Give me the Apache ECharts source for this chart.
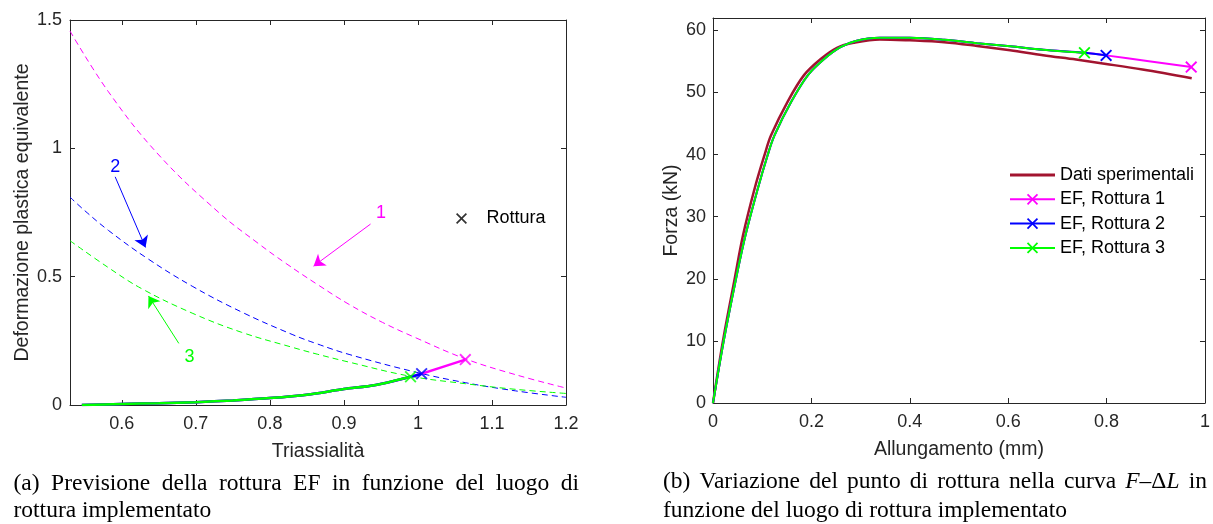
<!DOCTYPE html>
<html>
<head>
<meta charset="utf-8">
<script src="https://cdn.jsdelivr.net/npm/echarts@6.0.0/dist/echarts.min.js"></script>
<style>
  html, body { margin: 0; padding: 0; background: #fff; }
  #chart { width: 1213px; height: 524px; }
</style>
</head>
<body>
<div id="chart"></div>
<script>
// (a) luoghi di rottura: triassialita vs deformazione plastica equivalente
const triaxTicks = [0.6, 0.7, 0.8, 0.9, 1.0, 1.1, 1.2]
const triaxL1 = [0.53, 0.582, 0.65, 0.731, 0.785, 0.821, 0.864, 0.907, 0.952, 0.997, 1.064, 1.132, 1.2]
const epsL1 = [1.457, 1.22, 0.974, 0.75, 0.628, 0.553, 0.47, 0.392, 0.322, 0.262, 0.18, 0.118, 0.066]
const triaxL2 = [0.53, 0.55, 0.582, 0.634, 0.695, 0.762, 0.83, 0.864, 0.907, 0.997, 1.064, 1.132, 1.2]
const epsL2 = [0.81, 0.757, 0.68, 0.572, 0.463, 0.362, 0.275, 0.238, 0.197, 0.128, 0.087, 0.055, 0.03]
const triaxL3 = [0.53, 0.582, 0.627, 0.695, 0.762, 0.83, 0.864, 0.907, 0.988, 1.064, 1.132, 1.2]
const epsL3 = [0.64, 0.535, 0.453, 0.358, 0.283, 0.225, 0.198, 0.167, 0.113, 0.083, 0.061, 0.045]
// percorso di carico EF (comune), rottura 3 / 2 / 1 sugli ultimi punti
const triaxPath = [0.546, 0.6, 0.65, 0.7, 0.75, 0.8, 0.85, 0.9, 0.943, 0.99, 1.005, 1.064]
const epsPath = [0, 0.004, 0.007, 0.011, 0.018, 0.027, 0.04, 0.062, 0.078, 0.11, 0.122, 0.177]
const breakIdxA = [11, 10, 9] // rottura 1, 2, 3
// frecce e numeri
const arrowFrom = [[0.936, 0.705], [0.591, 0.889], [0.677, 0.24]]
const arrowTo = [[0.859, 0.541], [0.632, 0.614], [0.636, 0.425]]
const arrowLabel = ['1', '2', '3']
const arrowLabelAt = [[0.95, 0.748], [0.591, 0.928], [0.6915, 0.188]]

// (b) curva F - deltaL
const elongExp = [0, 0.0207, 0.0443, 0.061, 0.0845, 0.1046, 0.118, 0.1515, 0.185, 0.219, 0.252, 0.286, 0.339, 0.4, 0.47, 0.537, 0.604, 0.671, 0.738, 0.799, 0.873, 0.973]
const forceExp = [0, 10.2, 20.1, 27.0, 34.5, 39.9, 43.1, 48.5, 52.8, 55.4, 57.2, 58.0, 58.55, 58.4, 58.1, 57.5, 56.8, 56.0, 55.3, 54.6, 53.7, 52.3]
const elongFE = [0, 0.022, 0.047, 0.066, 0.091, 0.111, 0.125, 0.159, 0.193, 0.226, 0.259, 0.29, 0.339, 0.4, 0.47, 0.537, 0.604, 0.671, 0.755, 0.799, 0.886, 0.972]
const forceFE = [0, 10.1, 20.1, 27.0, 34.5, 39.9, 43.1, 48.5, 52.8, 55.4, 57.3, 58.3, 58.8, 58.8, 58.5, 57.95, 57.45, 56.9, 56.4, 55.98, 55.05, 54.1]
const breakIdxB = [21, 19, 18] // rottura 1, 2, 3

const MAG = '#FF00FF'
const BLU = '#0000FF'
const GRN = '#00FF00'
const RED = '#A2142F'
const AX = '#262626'
const SANS = 'Liberation Sans'
const CROSS = 'path://M0,1.1L1.1,0L5,3.9L8.9,0L10,1.1L6.1,5L10,8.9L8.9,10L5,6.1L1.1,10L0,8.9L3.9,5Z'

function pairs(xs, ys, n) {
  const out = []
  for (let i = 0; i < (n || xs.length); i++) out.push([xs[i], ys[i]])
  return out
}

// linea con la croce solo sull'ultimo punto
function endCross(xs, ys, n) {
  return pairs(xs, ys, n).map((p, i, a) => i === a.length - 1 ? { value: p } : { value: p, symbol: 'none' })
}

const tickFont = { fontSize: 18, fontFamily: SANS, color: AX }
const nameFont = { fontSize: 19.5, fontFamily: SANS, color: AX }

function frameAxis(extra) {
  return Object.assign({
    type: 'value',
    axisLine: { show: true, onZero: false, lineStyle: { color: AX, width: 1 } },
    axisTick: { show: true, inside: true, length: 5, lineStyle: { color: AX } },
    splitLine: { show: false },
    axisLabel: Object.assign({ show: true }, tickFont),
    nameTextStyle: nameFont
  }, extra)
}

// didascalie giustificate
const CAP_SIZE = 23.5
const CAP_FONT = CAP_SIZE + 'px "Liberation Serif"'
const mctx = document.createElement('canvas').getContext('2d')
function tw(s, it) {
  mctx.font = (it ? 'italic ' : '') + CAP_FONT
  return mctx.measureText(s).width
}
function captionLine(words, x0, x1, baseline) {
  const parts = words.map(w => typeof w === 'string' ? [[w, false]] : w)
  const widths = parts.map(w => w.reduce((a, p) => a + tw(p[0], p[1]), 0))
  const total = widths.reduce((a, b) => a + b, 0)
  const gap = x1 == null ? tw(' ') : (x1 - x0 - total) / (parts.length - 1)
  const els = []
  let x = x0
  parts.forEach((w, i) => {
    let px = x
    w.forEach(p => {
      els.push({
        type: 'text', x: px, y: baseline - 0.3375 * CAP_SIZE,
        style: { text: p[0], font: (p[1] ? 'italic ' : '') + CAP_FONT, fill: '#000', textVerticalAlign: 'middle', verticalAlign: 'middle' }
      })
      px += tw(p[0], p[1])
    })
    x += widths[i] + gap
  })
  return els
}

const captions = [].concat(
  captionLine('(a) Previsione della rottura EF in funzione del luogo di'.split(' '), 13.5, 579, 491.5),
  captionLine('rottura implementato'.split(' '), 13.5, null, 518.5),
  captionLine(['(b)', 'Variazione', 'del', 'punto', 'di', 'rottura', 'nella', 'curva', [['F', true], ['\u2013\u0394', false], ['L', true]], 'in'], 663, 1207, 490),
  captionLine('funzione del luogo di rottura implementato'.split(' '), 663, null, 518.5)
)

const chart = echarts.init(document.getElementById('chart'))

const series = []
// luoghi di rottura tratteggiati
;[[triaxL1, epsL1, MAG, 'Luogo 1'], [triaxL2, epsL2, BLU, 'Luogo 2'], [triaxL3, epsL3, GRN, 'Luogo 3']].forEach(s => {
  series.push({
    name: s[3], type: 'line', xAxisIndex: 0, yAxisIndex: 0, symbol: 'none', smooth: 0.4,
    data: pairs(s[0], s[1]), color: s[2],
    lineStyle: { color: s[2], width: 1, type: [6, 4] }
  })
})
// percorsi EF
;[[breakIdxA[0], MAG], [breakIdxA[1], BLU], [breakIdxA[2], GRN]].forEach((s, k) => {
  series.push({
    name: 'Percorso ' + (k + 1), type: 'line', xAxisIndex: 0, yAxisIndex: 0, symbol: 'none', smooth: 0.3,
    data: pairs(triaxPath, epsPath, s[0] + 1), color: s[1],
    lineStyle: { color: s[1], width: 2.5 }
  })
})
series.push({
  name: 'Rottura', type: 'scatter', xAxisIndex: 0, yAxisIndex: 0, symbol: CROSS, symbolSize: 12, z: 5,
  itemStyle: { color: '#000' },
  data: breakIdxA.map((idx, k) => ({ value: [triaxPath[idx], epsPath[idx]], itemStyle: { color: [MAG, BLU, GRN][k] } }))
})
// frecce
arrowFrom.forEach((f, k) => {
  const c = [MAG, BLU, GRN][k]
  series.push({
    name: 'Freccia ' + arrowLabel[k], type: 'line', xAxisIndex: 0, yAxisIndex: 0, data: [], color: c,
    markLine: {
      silent: true, symbol: ['none', 'arrow'], symbolSize: 11,
      label: { show: false },
      lineStyle: { color: c, width: 1, type: 'solid' },
      data: [[{ coord: f }, { coord: arrowTo[k] }]]
    },
    markPoint: {
      silent: true, symbol: 'circle', symbolSize: 1,
      itemStyle: { color: 'rgba(0,0,0,0)' },
      label: { show: true, position: 'inside', formatter: arrowLabel[k], color: c, fontSize: 18, fontFamily: SANS },
      data: [{ coord: arrowLabelAt[k] }]
    }
  })
})
// (b)
series.push({
  name: 'Dati sperimentali', type: 'line', xAxisIndex: 2, yAxisIndex: 2, symbol: 'none', smooth: 0.35,
  data: pairs(elongExp, forceExp), color: RED, lineStyle: { color: RED, width: 2.5 }
})
;[[breakIdxB[0], MAG], [breakIdxB[1], BLU], [breakIdxB[2], GRN]].forEach((s, k) => {
  series.push({
    name: 'EF, Rottura ' + (k + 1), type: 'line', xAxisIndex: 2, yAxisIndex: 2, smooth: 0.35,
    symbol: CROSS, symbolSize: 12, showSymbol: true,
    data: endCross(elongFE, forceFE, s[0] + 1), color: s[1],
    itemStyle: { color: s[1], borderWidth: 0 },
    lineStyle: { color: s[1], width: 2 }
  })
})

chart.setOption({
  animation: false,
  grid: [
    { left: 70, top: 20, width: 496, height: 385 },
    { left: 713, top: 18, width: 497, height: 385 }
  ],
  xAxis: [
    frameAxis({
      gridIndex: 0, min: 0.53, max: 1.2, name: 'Triassialità', nameLocation: 'middle', nameGap: 37,
      axisLabel: Object.assign({ customValues: triaxTicks, margin: 10 }, tickFont),
      axisTick: { inside: true, length: 5, customValues: triaxTicks, lineStyle: { color: AX } }
    }),
    frameAxis({
      gridIndex: 0, position: 'top', min: 0.53, max: 1.2, axisLabel: { show: false },
      axisTick: { inside: true, length: 5, customValues: triaxTicks, lineStyle: { color: AX } }
    }),
    frameAxis({
      gridIndex: 1, min: 0, max: 1, interval: 0.2, name: 'Allungamento (mm)', nameLocation: 'middle', nameGap: 37,
      axisLabel: Object.assign({ margin: 10 }, tickFont)
    }),
    frameAxis({ gridIndex: 1, position: 'top', min: 0, max: 1, interval: 0.2, axisLabel: { show: false } })
  ],
  yAxis: [
    frameAxis({
      gridIndex: 0, min: 0, max: 1.5, interval: 0.5, name: 'Deformazione plastica equivalente',
      nameLocation: 'middle', nameGap: 37, axisLabel: Object.assign({ margin: 8 }, tickFont)
    }),
    frameAxis({ gridIndex: 0, position: 'right', min: 0, max: 1.5, interval: 0.5, axisLabel: { show: false } }),
    frameAxis({
      gridIndex: 1, min: 0, max: 62, interval: 10, name: 'Forza (kN)', nameLocation: 'middle', nameGap: 31,
      axisLabel: Object.assign({ margin: 7, showMaxLabel: false }, tickFont)
    }),
    frameAxis({ gridIndex: 1, position: 'right', min: 0, max: 62, interval: 10, axisLabel: { show: false } })
  ],
  legend: [
    {
      data: [{ name: 'Rottura', icon: CROSS }], left: 456, top: 209.5, itemWidth: 40, itemHeight: 11,
      padding: 0, selectedMode: false, itemStyle: { borderWidth: 0 },
      textStyle: { fontSize: 18, fontFamily: SANS, color: '#000' }
    },
    {
      data: [{ name: 'Dati sperimentali', icon: 'path://M0,0h40v2.5h-40z' }, 'EF, Rottura 1', 'EF, Rottura 2', 'EF, Rottura 3'],
      orient: 'vertical', left: 1009, top: 166, itemWidth: 45, itemHeight: 14, itemGap: 6.3,
      padding: 0, selectedMode: false, itemStyle: { borderWidth: 0 },
      textStyle: { fontSize: 18, fontFamily: SANS, color: '#000' }
    }
  ],
  graphic: captions,
  series: series
})
</script>
</body>
</html>
